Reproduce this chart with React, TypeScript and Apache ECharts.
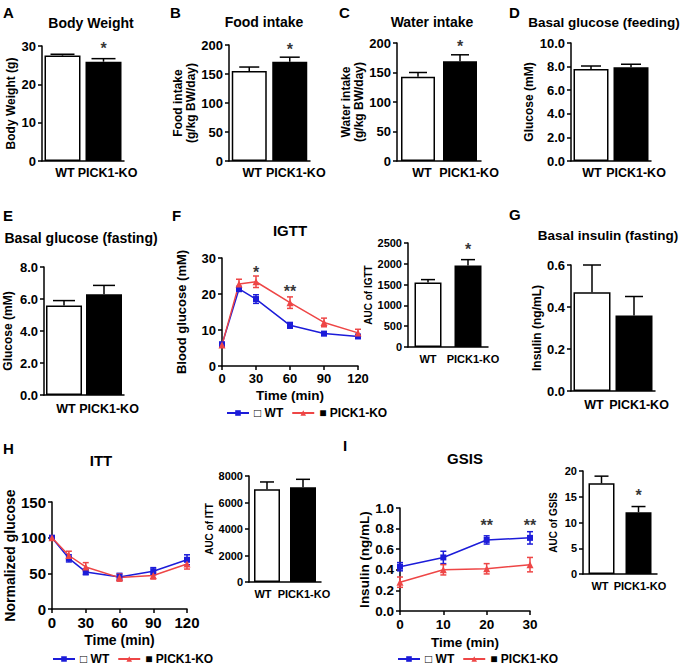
import React, { useEffect, useRef } from 'react';
import * as echarts from 'echarts';

// ---------- data ----------
const groups = ['WT', 'PICK1-KO'];
const bodyWeightMean = [27.5, 25.9];
const bodyWeightSem = [0.35, 0.8];
const foodIntakeMean = [155, 171];
const foodIntakeSem = [7, 8];
const waterIntakeMean = [143, 169];
const waterIntakeSem = [7, 11];
const glucoseFeedingMean = [7.8, 7.95];
const glucoseFeedingSem = [0.25, 0.25];
const glucoseFastingMean = [5.6, 6.3];
const glucoseFastingSem = [0.3, 0.55];
const igttTime = [0, 15, 30, 60, 90, 120];
const igttWT = [6.0, 21.4, 18.6, 11.3, 9.0, 8.2];
const igttWTSem = [0.6, 0.7, 1.2, 0.8, 0.5, 0.5];
const igttKO = [5.8, 22.8, 23.4, 17.6, 12.1, 9.2];
const igttKOSem = [0.6, 1.3, 1.6, 1.6, 1.2, 1.0];
const igttAucMean = [1550, 1960];
const igttAucSem = [70, 140];
const insulinFastingMean = [0.47, 0.36];
const insulinFastingSem = [0.13, 0.09];
const ittTime = [0, 15, 30, 60, 90, 120];
const ittWT = [100, 71, 52, 45, 53, 69];
const ittWTSem = [2, 5, 4, 5, 5, 7];
const ittKO = [100, 75, 59, 44, 47, 63];
const ittKOSem = [2, 6, 6, 5, 5, 7];
const ittAucMean = [7000, 7150];
const ittAucSem = [550, 600];
const gsisTime = [0, 10, 20, 30];
const gsisWT = [0.43, 0.52, 0.69, 0.71];
const gsisWTSem = [0.04, 0.06, 0.04, 0.06];
const gsisKO = [0.28, 0.4, 0.41, 0.45];
const gsisKOSem = [0.05, 0.05, 0.05, 0.07];
const gsisAucMean = [17.6, 12.0];
const gsisAucSem = [1.4, 1.1];

// significance marks: [x, y, text]
const bodyWeightStars: [number, number, string][] = [[1, 30.5, '*']];
const foodStars: [number, number, string][] = [[1, 200, '*']];
const waterStars: [number, number, string][] = [[1, 201, '*']];
const igttStars: [number, number, string][] = [[30, 27.2, '*'], [60, 21.7, '**']];
const igttAucStars: [number, number, string][] = [[1, 2450, '*']];
const gsisStars: [number, number, string][] = [[20, 0.87, '**'], [30, 0.87, '**']];
const gsisAucStars: [number, number, string][] = [[1, 16.1, '*']];

// ---------- styling ----------
const FONT = '"Liberation Sans", Arial, Helvetica, "DejaVu Sans", sans-serif';
const BLUE = '#1c1cd9';
const RED = '#ee4646';

const txt = (size: number) => ({ color: '#000', fontWeight: 'bold' as const, fontSize: size, fontFamily: FONT });
const axLine = { show: true, lineStyle: { color: '#000', width: 1.5 } };
const axTick = { show: true, length: 4, inside: false, lineStyle: { color: '#000', width: 1.5 } };

type Rect = { left: number; top: number; width: number; height: number };
const none: [number, number, string][] = [];

const barPanels = [
  { rect: { left: 42, top: 46, width: 82, height: 115 }, means: bodyWeightMean, sems: bodyWeightSem, max: 30, interval: 10, dec: 0, yName: 'Body Weight (g)', nameGap: 24, nameSize: 12, tick: 13, cat: 12.5, catMargin: 5, shift: [2.5, 4], barWidth: 36, cap: 24, stars: bodyWeightStars },
  { rect: { left: 229, top: 45, width: 81, height: 116 }, means: foodIntakeMean, sems: foodIntakeSem, max: 200, interval: 50, dec: 0, yName: 'Food intake\n(g/kg BW/day)', nameGap: 31, nameSize: 12, tick: 13, cat: 12.5, catMargin: 5, shift: [3, 6], barWidth: 35, cap: 20, stars: foodStars },
  { rect: { left: 397, top: 43, width: 84, height: 118 }, means: waterIntakeMean, sems: waterIntakeSem, max: 200, interval: 50, dec: 0, yName: 'Water intake\n(g/kg BW/day)', nameGap: 31, nameSize: 12, tick: 13, cat: 12.5, catMargin: 5, shift: [4, 9], barWidth: 34, cap: 18, stars: waterStars },
  { rect: { left: 571, top: 43, width: 80, height: 118 }, means: glucoseFeedingMean, sems: glucoseFeedingSem, max: 10, interval: 2, dec: 1, yName: 'Glucose (mM)', nameGap: 36, nameSize: 12, tick: 13, cat: 12.5, catMargin: 5, shift: [1, 5], barWidth: 35, cap: 20, stars: none },
  { rect: { left: 40, top: 267, width: 84, height: 128 }, means: glucoseFastingMean, sems: glucoseFastingSem, max: 8, interval: 2, dec: 1, yName: 'Glucose (mM)', nameGap: 30, nameSize: 12, tick: 13, cat: 12.5, catMargin: 7, shift: [2, 5], barWidth: 36, cap: 22, stars: none },
  { rect: { left: 408, top: 243, width: 80, height: 104 }, means: igttAucMean, sems: igttAucSem, max: 2500, interval: 500, dec: 0, yName: 'AUC of IGTT', nameGap: 33, nameSize: 10, tick: 11, cat: 11, catMargin: 6, shift: [0, 5], barWidth: 27, cap: 14, stars: igttAucStars },
  { rect: { left: 571, top: 265, width: 84, height: 126 }, means: insulinFastingMean, sems: insulinFastingSem, max: 0.6, interval: 0.2, dec: 1, yName: 'Insulin (ng/mL)', nameGap: 28, nameSize: 12, tick: 13, cat: 12.5, catMargin: 7, shift: [2, 5], barWidth: 37, cap: 18, stars: none },
  { rect: { left: 249, top: 476, width: 72, height: 106 }, means: ittAucMean, sems: ittAucSem, max: 8000, interval: 2000, dec: 0, yName: 'AUC of ITT', nameGap: 34, nameSize: 10, tick: 11, cat: 11, catMargin: 6, shift: [-4, 1], barWidth: 26, cap: 14, stars: none },
  { rect: { left: 583, top: 471, width: 74, height: 103 }, means: gsisAucMean, sems: gsisAucSem, max: 20, interval: 5, dec: 0, yName: 'AUC of GSIS', nameGap: 24, nameSize: 10, tick: 11, cat: 11, catMargin: 6, shift: [-1.5, 1.5], barWidth: 26, cap: 14, stars: gsisAucStars },
];

const linePanels = [
  { rect: { left: 222, top: 258, width: 136, height: 108 }, time: igttTime, wt: igttWT, wtSem: igttWTSem, ko: igttKO, koSem: igttKOSem, xMax: 120, xInt: 30, yMax: 30, yInt: 10, dec: 0, yName: 'Blood glucose (mM)', nameGap: 34, nameSize: 13, tick: 13, xNameGap: 22, xNameSize: 13.5, stars: igttStars },
  { rect: { left: 52, top: 502, width: 135, height: 107 }, time: ittTime, wt: ittWT, wtSem: ittWTSem, ko: ittKO, koSem: ittKOSem, xMax: 120, xInt: 30, yMax: 150, yInt: 50, dec: 0, yName: 'Normalized glucose', nameGap: 33, nameSize: 14, tick: 15, xNameGap: 24, xNameSize: 14, stars: none },
  { rect: { left: 400, top: 508, width: 130, height: 103 }, time: gsisTime, wt: gsisWT, wtSem: gsisWTSem, ko: gsisKO, koSem: gsisKOSem, xMax: 30, xInt: 10, yMax: 1, yInt: 0.2, dec: 1, yName: 'Insulin (ng/mL)', nameGap: 29, nameSize: 13.5, tick: 13.5, xNameGap: 24, xNameSize: 13.5, stars: gsisStars },
];

const titles: [string, number, number, number][] = [
  ['Body Weight', 91, 23, 14],
  ['Food intake', 264, 22, 14],
  ['Water intake', 432, 22, 14],
  ['Basal glucose (feeding)', 604, 22, 13.5],
  ['Basal glucose (fasting)', 81, 238, 14],
  ['IGTT', 290, 230, 15],
  ['Basal insulin (fasting)', 608, 235, 13.5],
  ['ITT', 101, 460, 15],
  ['GSIS', 465, 458, 15],
];
const letters: [string, number, number][] = [
  ['A', 3, 12], ['B', 170, 12], ['C', 339, 12], ['D', 509, 12],
  ['E', 3, 215], ['F', 172, 215], ['G', 509, 214], ['H', 3, 448], ['I', 343, 445],
];
const legendSpots: [number, number][] = [[226, 407], [52, 653], [397, 653]];

function barErr(cap: number) {
  return (params: any, api: any) => {
    const x = api.value(0), y = api.value(1), e = api.value(2);
    const a = api.coord([x, y]);
    const b = api.coord([x, y + e]);
    const st = { stroke: '#000', lineWidth: 1.5 };
    return {
      type: 'group',
      children: [
        { type: 'line', shape: { x1: a[0], y1: a[1], x2: b[0], y2: b[1] }, style: st },
        { type: 'line', shape: { x1: b[0] - cap / 2, y1: b[1], x2: b[0] + cap / 2, y2: b[1] }, style: st },
      ],
    };
  };
}

function lineErr(color: string, cap: number) {
  return (params: any, api: any) => {
    const x = api.value(0), y = api.value(1), e = api.value(2);
    const a = api.coord([x, y - e]);
    const b = api.coord([x, y + e]);
    const st = { stroke: color, lineWidth: 1.5 };
    return {
      type: 'group',
      children: [
        { type: 'line', shape: { x1: a[0], y1: a[1], x2: b[0], y2: b[1] }, style: st },
        { type: 'line', shape: { x1: b[0] - cap / 2, y1: b[1], x2: b[0] + cap / 2, y2: b[1] }, style: st },
        { type: 'line', shape: { x1: a[0] - cap / 2, y1: a[1], x2: a[0] + cap / 2, y2: a[1] }, style: st },
      ],
    };
  };
}

function starSeries(i: number, stars: [number, number, string][]) {
  return {
    type: 'scatter', name: 'star' + i, xAxisIndex: i, yAxisIndex: i,
    symbolSize: 1, itemStyle: { color: 'rgba(0,0,0,0)' }, clip: false, silent: true, z: 5,
    data: stars.map((s) => ({
      value: [s[0], s[1]],
      label: { show: true, formatter: s[2], position: 'inside', ...txt(16), offset: [0, 4] },
    })),
  };
}

const padFor = (s: number) => (s >= 0 ? [0, 0, 0, 2 * s] : [0, -2 * s, 0, 0]);

function buildOption() {
  const grid: any[] = [], xAxis: any[] = [], yAxis: any[] = [], series: any[] = [];
  const fmt = (d: number) => (v: number) => Number(v).toFixed(d);

  barPanels.forEach((p) => {
    const i = grid.length;
    grid.push({ ...(p.rect as Rect) });
    xAxis.push({
      type: 'category', gridIndex: i,
      data: groups.map((g, j) => ({ value: g, textStyle: { padding: padFor(p.shift[j]) } })),
      axisLine: axLine, axisTick: { show: false },
      axisLabel: { ...txt(p.cat), interval: 0, margin: p.catMargin, hideOverlap: false }, splitLine: { show: false },
    });
    yAxis.push({
      type: 'value', gridIndex: i, min: 0, max: p.max, interval: p.interval,
      axisLine: axLine, axisTick: axTick,
      axisLabel: { ...txt(p.tick), margin: 6, formatter: fmt(p.dec) }, splitLine: { show: false },
      name: p.yName, nameLocation: 'middle', nameGap: p.nameGap,
      nameTextStyle: { ...txt(p.nameSize), lineHeight: p.nameSize + 1 },
    });
    series.push({
      type: 'bar', name: 'bar' + i, xAxisIndex: i, yAxisIndex: i, barWidth: p.barWidth, silent: true,
      data: p.means.map((v, j) => ({ value: v, itemStyle: { color: j ? '#000' : '#fff', borderColor: '#000', borderWidth: 1.5 } })),
    });
    series.push({
      type: 'custom', name: 'err' + i, xAxisIndex: i, yAxisIndex: i, silent: true, clip: false, z: 3,
      data: p.means.map((v, j) => [j, v, p.sems[j]]), encode: { x: 0, y: 1 }, renderItem: barErr(p.cap),
    });
    if (p.stars.length) series.push(starSeries(i, p.stars));
  });

  linePanels.forEach((p) => {
    const i = grid.length;
    grid.push({ ...(p.rect as Rect) });
    xAxis.push({
      type: 'value', gridIndex: i, min: 0, max: p.xMax, interval: p.xInt,
      axisLine: axLine, axisTick: axTick, axisLabel: { ...txt(p.tick), margin: 6 }, splitLine: { show: false },
      name: 'Time (min)', nameLocation: 'middle', nameGap: p.xNameGap, nameTextStyle: txt(p.xNameSize),
    });
    yAxis.push({
      type: 'value', gridIndex: i, min: 0, max: p.yMax, interval: p.yInt,
      axisLine: axLine, axisTick: axTick,
      axisLabel: { ...txt(p.tick), margin: 6, formatter: fmt(p.dec) }, splitLine: { show: false },
      name: p.yName, nameLocation: 'middle', nameGap: p.nameGap, nameTextStyle: txt(p.nameSize),
    });
    const mk = (name: string, vals: number[], sems: number[], color: string, symbol: string, size: number) => {
      series.push({
        type: 'custom', name: name + '-err' + i, xAxisIndex: i, yAxisIndex: i, silent: true, clip: false, z: 2,
        data: p.time.map((t, k) => [t, vals[k], sems[k]]), encode: { x: 0, y: 1 }, renderItem: lineErr(color, 6),
      });
      series.push({
        type: 'line', name, xAxisIndex: i, yAxisIndex: i, silent: true, z: 3,
        data: p.time.map((t, k) => [t, vals[k]]), symbol, symbolSize: size,
        lineStyle: { color, width: 1.5 }, itemStyle: { color },
      });
    };
    mk('WT', p.wt, p.wtSem, BLUE, 'rect', 6);
    mk('PICK1-KO', p.ko, p.koSem, RED, 'triangle', 7);
    if (p.stars.length) series.push(starSeries(i, p.stars));
  });

  const legend = legendSpots.map(([left, top]) => ({
    left, top, padding: 0, data: ['WT', 'PICK1-KO'], selectedMode: false,
    itemWidth: 22, itemHeight: 7, itemGap: 8,
    textStyle: { ...txt(12) },
    formatter: (n: string) => (n === 'WT' ? '□ WT' : '■ PICK1-KO'),
  }));

  const graphic: any[] = [];
  titles.forEach(([t, x, y, s]) => {
    graphic.push({ type: 'text', x, y, silent: true, style: { text: t, font: `bold ${s}px ${FONT}`, fill: '#000', textAlign: 'center', textVerticalAlign: 'middle' } });
  });
  letters.forEach(([t, x, y]) => {
    graphic.push({ type: 'text', x, y, silent: true, style: { text: t, font: `bold 15px ${FONT}`, fill: '#000', textAlign: 'left', textVerticalAlign: 'middle' } });
  });

  return { animation: false, backgroundColor: '#fff', grid, xAxis, yAxis, series, legend, graphic };
}

export default function App() {
  const ref = useRef<HTMLDivElement>(null);
  useEffect(() => {
    document.body.style.margin = '0';
    const chart = echarts.init(ref.current!, null, { renderer: 'svg' });
    chart.setOption(buildOption() as any);
    return () => chart.dispose();
  }, []);
  return <div ref={ref} style={{ width: 683, height: 669 }} />;
}
